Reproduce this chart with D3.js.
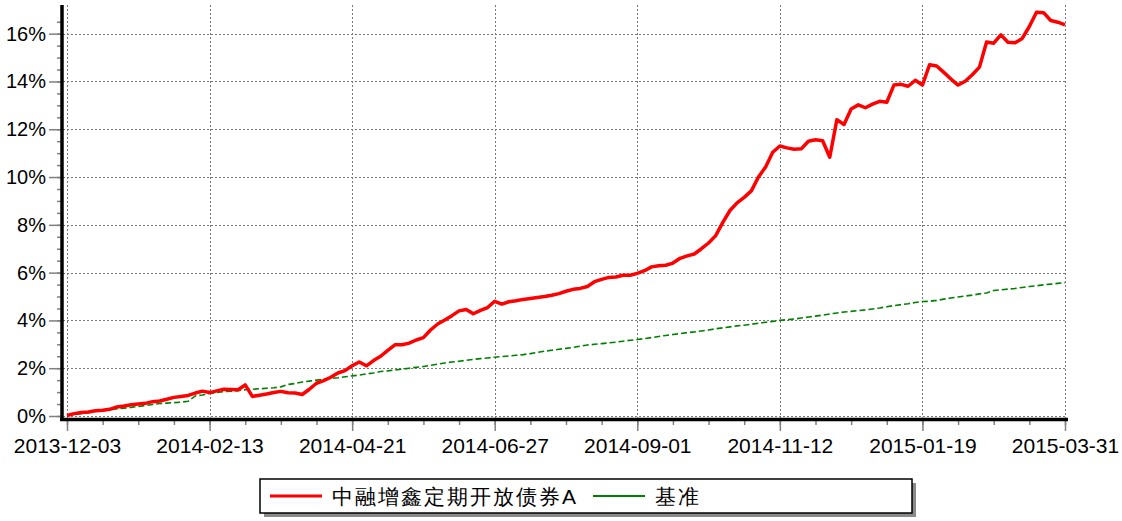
<!DOCTYPE html>
<html>
<head>
<meta charset="utf-8">
<script src="https://cdn.jsdelivr.net/npm/d3@7"></script>
<style>
  body { margin: 0; background: #fff; }
  text { font-family: "Liberation Sans", Arial, sans-serif; }
</style>
</head>
<body>
<div id="chart"></div>
<script>
// tick labels on the x axis (evenly spaced over the trading days)
const DATE_LABELS = ['2013-12-03','2014-02-13','2014-04-21','2014-06-27','2014-09-01','2014-11-12','2015-01-19','2015-03-31']
const SERIES_NAMES = ['中融增鑫定期开放债券A', '基准']

// cumulative return, % (sampled every ~2 trading days)
const fund = [
  0.02,0.10,0.15,0.17,0.22,0.24,0.28,0.38,0.42,0.47,
  0.50,0.53,0.60,0.63,0.70,0.78,0.82,0.86,0.96,1.04,
  0.98,1.05,1.12,1.11,1.10,1.30,0.82,0.87,0.92,0.98,
  1.03,0.97,0.96,0.90,1.12,1.37,1.48,1.62,1.80,1.90,
  2.10,2.26,2.10,2.32,2.50,2.75,2.98,2.98,3.05,3.18,
  3.28,3.60,3.85,4.02,4.20,4.40,4.46,4.28,4.42,4.54,
  4.80,4.68,4.78,4.82,4.88,4.92,4.96,5.00,5.05,5.12,
  5.22,5.30,5.34,5.42,5.62,5.72,5.80,5.82,5.89,5.89,
  5.97,6.08,6.24,6.29,6.31,6.40,6.60,6.70,6.78,7.00,
  7.24,7.55,8.10,8.60,8.92,9.15,9.42,10.00,10.42,11.04,
  11.30,11.22,11.16,11.18,11.50,11.56,11.52,10.83,12.40,12.20,
  12.85,13.02,12.90,13.05,13.17,13.13,13.85,13.88,13.80,14.05,
  13.85,14.70,14.65,14.38,14.10,13.85,14.01,14.28,14.60,15.65,
  15.60,15.95,15.64,15.62,15.80,16.30,16.90,16.88,16.55,16.48,
  16.37
]
const benchmark = [
  0.02,0.06,0.10,0.14,0.20,0.22,0.26,0.30,0.33,0.36,
  0.40,0.44,0.48,0.52,0.54,0.56,0.58,0.62,0.84,0.88,
  0.94,0.98,1.02,1.04,1.06,1.10,1.12,1.14,1.16,1.18,
  1.22,1.32,1.36,1.42,1.46,1.50,1.54,1.57,1.60,1.64,
  1.68,1.71,1.76,1.80,1.86,1.89,1.93,1.96,2.00,2.04,
  2.07,2.12,2.17,2.22,2.26,2.29,2.33,2.37,2.40,2.43,
  2.46,2.49,2.51,2.54,2.57,2.61,2.66,2.71,2.75,2.79,
  2.83,2.87,2.92,2.97,3.00,3.03,3.06,3.09,3.13,3.17,
  3.20,3.24,3.28,3.33,3.37,3.41,3.45,3.49,3.52,3.56,
  3.60,3.65,3.69,3.73,3.77,3.80,3.84,3.88,3.92,3.96,
  4.00,4.03,4.06,4.10,4.14,4.18,4.22,4.27,4.31,4.35,
  4.38,4.41,4.44,4.48,4.52,4.57,4.62,4.66,4.70,4.75,
  4.79,4.80,4.84,4.89,4.94,4.98,5.02,5.06,5.11,5.15,
  5.25,5.28,5.31,5.34,5.38,5.42,5.45,5.49,5.52,5.55,
  5.58
]
const Y_TICKS = [0,2,4,6,8,10,12,14,16]

const width = 1122, height = 521
const svg = d3.select('#chart').append('svg')
  .attr('width', width)
  .attr('height', height)

const n = fund.length
const x = d3.scaleLinear().domain([0, n - 1]).range([67, 1065])
const y = d3.scaleLinear().domain([0, 17.2]).range([416, 5])

const step = (n - 1) / (DATE_LABELS.length - 1)
const majorX = DATE_LABELS.map((d, i) => i * step)
const minorX = d3.range(0, (DATE_LABELS.length - 1) * 4 + 1).map(i => i * step / 4)
const minorY = d3.range(0, 34).map(i => i * 0.5)

// grid
const grid = svg.append('g')
  .attr('stroke', '#7a7a7a')
  .attr('stroke-width', 1)
  .attr('stroke-dasharray', '2,2')
grid.selectAll('.hg').data(Y_TICKS).enter().append('line')
  .attr('x1', 63).attr('x2', 1067)
  .attr('y1', d => Math.round(y(d)) + 0.5).attr('y2', d => Math.round(y(d)) + 0.5)
grid.selectAll('.vg').data(majorX).enter().append('line')
  .attr('x1', d => Math.round(x(d)) + 0.5).attr('x2', d => Math.round(x(d)) + 0.5)
  .attr('y1', 5).attr('y2', 418)

// lines
const line = d3.line().x((d, i) => x(i)).y(d => y(d))
svg.append('path')
  .datum(benchmark)
  .attr('fill', 'none')
  .attr('stroke', '#008000')
  .attr('stroke-width', 1.6)
  .attr('stroke-dasharray', '6,3')
  .attr('d', line)
svg.append('path')
  .datum(fund)
  .attr('fill', 'none')
  .attr('stroke', '#ff0000')
  .attr('stroke-width', 3.5)
  .attr('stroke-linejoin', 'round')
  .attr('d', line)

// y axis
const yMinor = svg.append('g')
  .attr('transform', 'translate(61,0)')
  .call(d3.axisLeft(y).tickValues(minorY).tickSize(4).tickFormat(''))
const yAxis = svg.append('g')
  .attr('transform', 'translate(61,0)')
  .call(d3.axisLeft(y).tickValues(Y_TICKS).tickSize(12).tickPadding(3).tickFormat(d => d + '%'))

// x axis
const xMinor = svg.append('g')
  .attr('transform', 'translate(0,420)')
  .call(d3.axisBottom(x).tickValues(minorX).tickSize(5).tickFormat(''))
const xAxis = svg.append('g')
  .attr('transform', 'translate(0,420)')
  .call(d3.axisBottom(x).tickValues(majorX).tickSize(11).tickPadding(7).tickFormat((d, i) => DATE_LABELS[i]))

for (const g of [yMinor, yAxis, xMinor, xAxis]) {
  g.select('.domain').remove()
  g.selectAll('line').attr('stroke', '#808080').attr('stroke-width', 1.5)
  g.selectAll('text')
    .attr('fill', '#000')
    .attr('font-size', 20)
    .attr('font-family', '"Liberation Sans", Arial, sans-serif')
}
xAxis.selectAll('text').attr('font-size', 21)

// thick black axis lines
svg.append('line')
  .attr('x1', 62).attr('x2', 62).attr('y1', 5).attr('y2', 421)
  .attr('stroke', '#000').attr('stroke-width', 3.5)
svg.append('line')
  .attr('x1', 60).attr('x2', 1068).attr('y1', 419.5).attr('y2', 419.5)
  .attr('stroke', '#000').attr('stroke-width', 3.5)

// legend
const legend = svg.append('g')
legend.append('rect')
  .attr('x', 264).attr('y', 483).attr('width', 652).attr('height', 34)
  .attr('fill', '#8a8a8a')
legend.append('rect')
  .attr('x', 260).attr('y', 479).attr('width', 652).attr('height', 34)
  .attr('fill', '#fff').attr('stroke', '#000').attr('stroke-width', 1.5)

const legendItems = [
  {name: SERIES_NAMES[0], color: '#ff0000', w: 3, x0: 270},
  {name: SERIES_NAMES[1], color: '#008000', w: 2, x0: 593}
]
legendItems.forEach(it => {
  legend.append('line')
    .attr('x1', it.x0).attr('x2', it.x0 + 52)
    .attr('y1', 496).attr('y2', 496)
    .attr('stroke', it.color).attr('stroke-width', it.w)
  legend.append('text')
    .attr('x', it.x0 + 62).attr('y', 504)
    .attr('font-size', 21)
    .attr('letter-spacing', 2)
    .attr('font-family', '"Noto Sans CJK SC", sans-serif')
    .attr('fill', '#000')
    .text(it.name)
})
</script>
</body>
</html>
